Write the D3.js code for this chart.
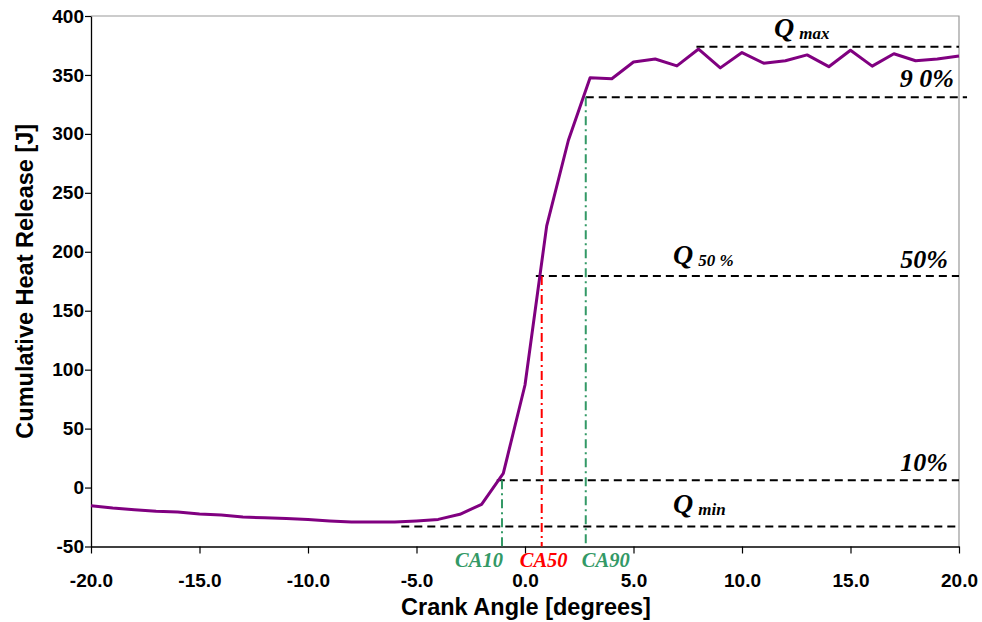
<!DOCTYPE html>
<html>
<head>
<meta charset="utf-8">
<script src="https://cdn.jsdelivr.net/npm/d3@7"></script>
<style>
  html, body { margin: 0; padding: 0; background: #fff; }
  svg { display: block; }
</style>
</head>
<body>
<svg id="chart" width="982" height="622"></svg>
<script>
// ---- data ----
const crankAngle = [-20,-19,-18,-17,-16,-15,-14,-13,-12,-11,-10,-9,-8,-7,-6,-5,-4,-3,-2,-1,0,1,2,3,4,5,6,7,8,9,10,11,12,13,14,15,16,17,18,19,20];
const heatRelease = [-15.4,-17.4,-18.8,-20.2,-20.8,-22.5,-23.2,-25,-25.6,-26.2,-27,-28.3,-29.2,-29.2,-29.2,-28.3,-27,-22.7,-14.2,12,87,222,294.6,347.7,346.8,361,363.5,357.7,372,356,369,360,362,367,357,371,357.5,368,362,363.5,366];

const xTicks = [-20,-15,-10,-5,0,5,10,15,20];
const yTicks = [-50,0,50,100,150,200,250,300,350,400];

// horizontal reference levels: name, value, start angle, end angle
const refNames  = ["Qmax","90%","50%","10%","Qmin"];
const refValues = [374, 331, 179.5, 6.2, -33];
const refStart  = [7.9, 2.8, 0.5, -1.3, -5.7];
const refEnd    = [20, 20.37, 20, 20, 20];

// crank-angle markers
const caNames  = ["CA10","CA50","CA90"];
const caAngles = [-1.06, 0.77, 2.8];
const caLevels = [6.2, 179.5, 331];
const caColors = ["#339966","#ff0000","#339966"];

// ---- layout ----
const svg = d3.select("#chart");
const x = d3.scaleLinear().domain([-20, 20]).range([91, 959]);
const y = d3.scaleLinear().domain([-50, 400]).range([546.5, 16]);

// plot border (top & right, grey)
svg.append("path")
  .attr("d", `M${x(-20)},${y(400)}H${x(20)}V${y(-50)}`)
  .attr("fill", "none").attr("stroke", "#999").attr("stroke-width", 1.2);

// axes
const xAxis = d3.axisBottom(x).tickValues(xTicks).tickFormat(d => d.toFixed(1)).tickSize(7).tickSizeOuter(0);
const yAxis = d3.axisLeft(y).tickValues(yTicks).tickFormat(d => String(d)).tickSize(6).tickSizeOuter(0);

const gx = svg.append("g").attr("transform", `translate(0,${y(-50)})`).call(xAxis);
const gy = svg.append("g").attr("transform", `translate(${x(-20)},0)`).call(yAxis);

[gx, gy].forEach(g => {
  g.select(".domain").attr("stroke", "#000").attr("stroke-width", 1.3);
  g.selectAll(".tick line").attr("stroke", "#000").attr("stroke-width", 1.2);
  g.selectAll(".tick text")
    .attr("fill", "#000")
    .style("font-family", "'Liberation Sans', Arial, sans-serif")
    .style("font-weight", "bold")
    .style("font-size", "19px");
});
gx.selectAll(".tick text").attr("dy", null).attr("y", 40);
gy.selectAll(".tick text").attr("x", -7);

// axis titles
svg.append("text")
  .attr("x", x(0) + 1).attr("y", 615)
  .attr("text-anchor", "middle")
  .style("font-family", "'Liberation Sans', Arial, sans-serif")
  .style("font-weight", "bold").style("font-size", "23.5px")
  .text("Crank Angle [degrees]");

svg.append("text")
  .attr("transform", `translate(33,${y(175)}) rotate(-90)`)
  .attr("text-anchor", "middle")
  .style("font-family", "'Liberation Sans', Arial, sans-serif")
  .style("font-weight", "bold").style("font-size", "23.5px")
  .text("Cumulative Heat Release [J]");

// reference dashed lines
svg.append("g").selectAll("line")
  .data(refNames.map((n, i) => ({ n, v: refValues[i], s: refStart[i], e: refEnd[i] })))
  .join("line")
  .attr("x1", d => x(d.s)).attr("x2", d => x(d.e))
  .attr("y1", d => y(d.v)).attr("y2", d => y(d.v))
  .attr("stroke", "#000").attr("stroke-width", 2)
  .attr("stroke-dasharray", "8,5");

// vertical crank angle markers (dash-dot)
svg.append("g").selectAll("line")
  .data(caNames.map((n, i) => ({ n, a: caAngles[i], lv: caLevels[i], c: caColors[i] })))
  .join("line")
  .attr("x1", d => x(d.a)).attr("x2", d => x(d.a))
  .attr("y1", d => y(d.lv)).attr("y2", y(-50))
  .attr("stroke", d => d.c).attr("stroke-width", 2)
  .attr("stroke-dasharray", "9,4,2,4");

// curve
const line = d3.line().x((d, i) => x(crankAngle[i])).y(d => y(d));
svg.append("path")
  .datum(heatRelease)
  .attr("d", line)
  .attr("fill", "none")
  .attr("stroke", "#800080")
  .attr("stroke-width", 3)
  .attr("stroke-linejoin", "round");

// CA labels
svg.append("g").selectAll("text")
  .data(caNames.map((n, i) => ({ n, a: caAngles[i], c: caColors[i] })))
  .join("text")
  .attr("x", (d, i) => x(d.a) + [-23, 2, 20][i])
  .attr("y", 567)
  .attr("text-anchor", "middle")
  .attr("fill", d => d.c)
  .style("font-family", "'Liberation Serif', 'Times New Roman', serif")
  .style("font-weight", "bold").style("font-style", "italic")
  .style("font-size", "20.5px")
  .text(d => d.n);

// annotation text helpers
const serif = "'Liberation Serif', 'Times New Roman', serif";
function qLabel(xp, yp, sub) {
  const t = svg.append("text").attr("x", xp).attr("y", yp)
    .style("font-family", serif).style("font-weight", "bold").style("font-style", "italic");
  t.append("tspan").style("font-size", "28px").text("Q");
  t.append("tspan").style("font-size", "17px").attr("dx", 5).attr("dy", 2).text(sub);
}
function pctLabel(xp, yp, txt) {
  svg.append("text").attr("x", xp).attr("y", yp)
    .attr("text-anchor", "end")
    .style("font-family", serif).style("font-weight", "bold").style("font-style", "italic")
    .style("font-size", "26px")
    .text(txt);
}

qLabel(774, y(refValues[0]) - 10, "max");
qLabel(673, y(refValues[2]) - 12, "50 %");
qLabel(673, y(refValues[4]) - 13, "min");

pctLabel(x(20) - 5, y(refValues[1]) - 10, "9 0%");
pctLabel(x(20) - 11, y(refValues[2]) - 8, "50%");
pctLabel(x(20) - 11, y(refValues[3]) - 9, "10%");
</script>
</body>
</html>
